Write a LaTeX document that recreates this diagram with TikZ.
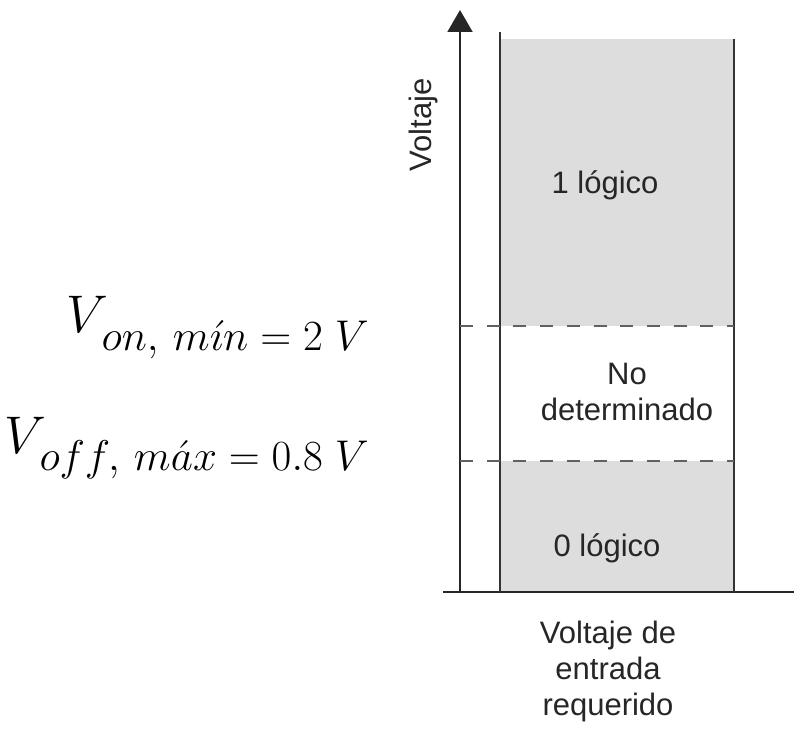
\documentclass[tikz,border=0pt]{standalone}
\usepackage{fix-cm}
\usepackage{fontspec}
\setmainfont{Liberation Sans}
\usetikzlibrary{arrows.meta}
\begin{document}
\begin{tikzpicture}[x=1pt,y=-1pt,
  axis/.style={draw=black!85, line width=2pt},
  bar/.style={draw=black!80, line width=1.8pt},
  dashline/.style={draw=black!62, line width=2.4pt, dash pattern=on 13pt off 13.7pt},
  lbl/.style={font=\fontsize{31}{36}\selectfont, text=black!85, align=center, inner sep=0pt},
  bigv/.style={font=\fontsize{53}{57}\selectfont, inner sep=0pt},
  subv/.style={font=\fontsize{43}{47}\selectfont, inner sep=0pt}]
\useasboundingbox (0,0) rectangle (794,730);
% shaded regions
\fill[gray!27] (500,39) rectangle (734,592);
\fill[white] (500,326) rectangle (734,461);
% axes
\coordinate (o) at (460,592);
\coordinate (ytop) at (460,10);
\coordinate (xstart) at (443,592);
\coordinate (xend) at (794,592);
\draw[axis,-{Triangle[length=22pt,width=25pt]}] (o) -- (ytop);
\draw[axis] (xstart) -- (xend);
% bar sides
\coordinate (lt) at (500,32);
\coordinate (lb) at (500,592);
\coordinate (rt) at (734,39);
\coordinate (rb) at (734,592);
\draw[bar] (lt) -- (lb);
\draw[bar] (rt) -- (rb);
% thresholds
\coordinate (d1a) at (460,326);
\coordinate (d1b) at (734,326);
\coordinate (d2a) at (460,461);
\coordinate (d2b) at (734,461);
\draw[dashline] (d1a) -- (d1b);
\draw[dashline] (d2a) -- (d2b);
% labels
\node[lbl, rotate=90] (vy) at (423,125) {Voltaje};
\node[lbl] (one) at (605,185) {1 lógico};
\node[lbl] (nd) at (627,392) {No\\determinado};
\node[lbl] (zero) at (607,548) {0 lógico};
\node[lbl, anchor=north] (xl) at (608,621) {Voltaje de\\entrada\\requerido};
% equations
\node[subv, anchor=base east] (s1) at (369,350) {$on,\, m\acute{\imath}n\;{=}\;2\;V$};
\node[bigv, anchor=base east] (v1) at ([xshift=7pt,yshift=18pt]s1.base west) {$V$};
\node[subv, anchor=base east] (s2) at (369,470) {$off,\, m\acute{a}x\;{=}\;0.8\;V$};
\node[bigv, anchor=base east] (v2) at ([xshift=7pt,yshift=17pt]s2.base west) {$V$};
\end{tikzpicture}
\end{document}
